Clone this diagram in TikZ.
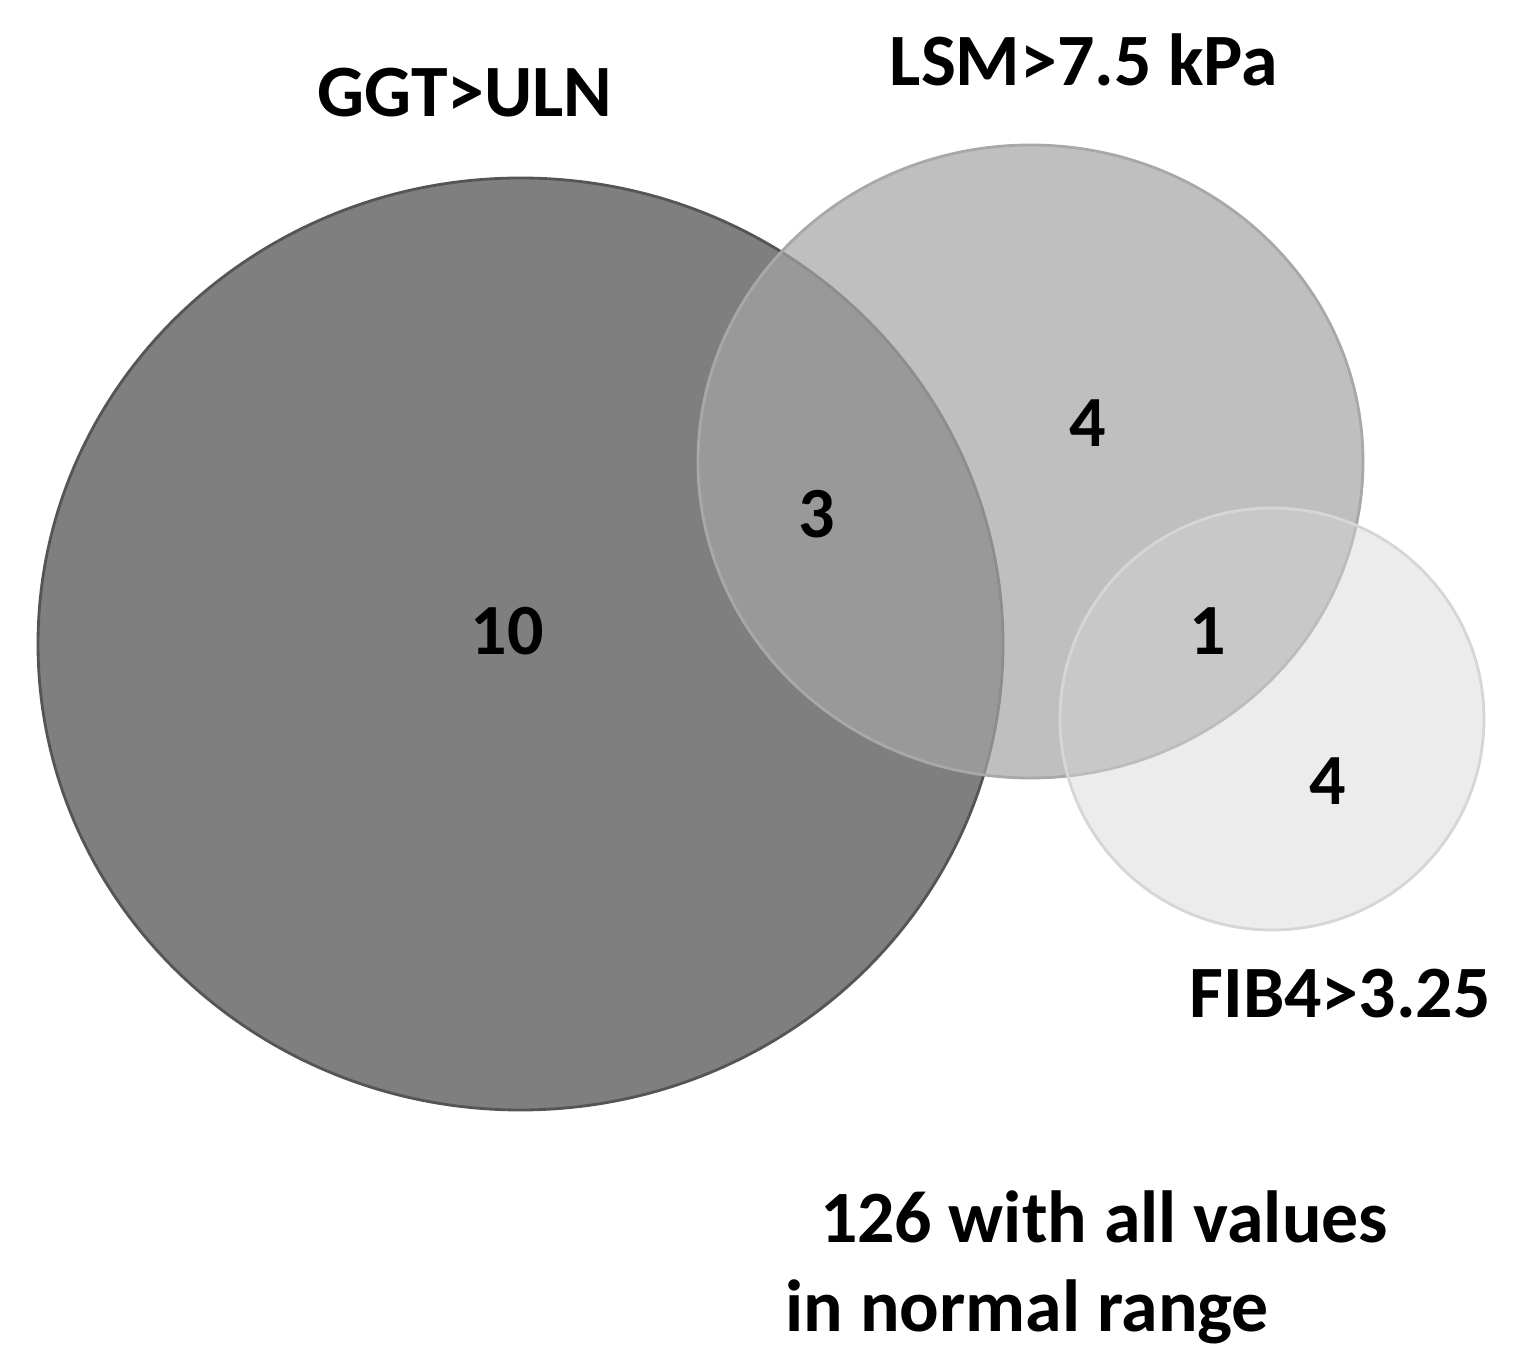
\documentclass[tikz,border=0pt]{standalone}
\usepackage{fontspec}
\setmainfont{Carlito}
\usetikzlibrary{shapes.geometric}
\definecolor{ggtfill}{RGB}{127,127,127}
\definecolor{ggtline}{RGB}{85,85,85}
\definecolor{lsmfill}{RGB}{165,165,165}
\definecolor{lsmline}{RGB}{168,168,168}
\definecolor{fibfill}{RGB}{213,213,213}
\definecolor{fibline}{RGB}{214,214,214}
\tikzset{
  setshape/.style={ellipse, inner sep=0pt, line width=0.8pt},
  lbl/.style={font=\fontsize{21}{25}\selectfont\bfseries, anchor=base, inner sep=0pt},
  num/.style={font=\fontsize{20.5}{24}\selectfont\bfseries, anchor=base, inner sep=0pt}
}
\begin{document}
\begin{tikzpicture}
\useasboundingbox (0,0) rectangle (15.23,-13.72);
\node[setshape, fill=ggtfill, draw=ggtline, minimum width=9.65cm, minimum height=9.32cm] (ggt) at (5.205,-6.44) {};
\node[setshape, fill=lsmfill, fill opacity=0.71, draw=lsmline, minimum width=6.65cm, minimum height=6.33cm] (lsm) at (10.305,-4.615) {};
\node[setshape, fill=fibfill, fill opacity=0.45, draw=fibline, minimum width=4.24cm, minimum height=4.22cm] (fib) at (12.72,-7.19) {};
\node[lbl] (tggt) at (4.65,-1.17) {GGT>ULN};
\node[lbl] (tlsm) at (10.84,-0.86) {LSM>7.5 kPa};
\node[lbl] (tfib) at (13.40,-10.18) {FIB4>3.25};
\node[lbl] (tall1) at (11.04,-12.43) {126 with all values};
\node[lbl, anchor=base west] (tall2) at (7.85,-13.32) {in normal range};
\node[num] (n10) at (5.07,-6.55) {10};
\node[num] (n3) at (8.17,-5.38) {3};
\node[num] (n4a) at (10.88,-4.47) {4};
\node[num] (n1) at (12.08,-6.55) {1};
\node[num] (n4b) at (13.28,-8.05) {4};
\end{tikzpicture}
\end{document}
